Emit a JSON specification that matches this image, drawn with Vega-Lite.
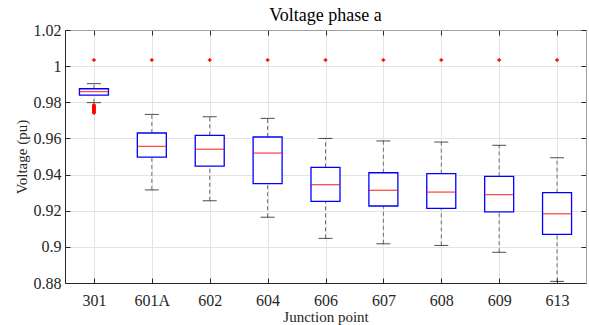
{
  "$schema": "https://vega.github.io/schema/vega-lite/v6.json",
  "width": 521,
  "height": 253,
  "autosize": {"type": "none"},
  "padding": {"left": 65, "top": 30, "right": 3, "bottom": 42},
  "background": "white",
  "title": {
    "text": "Voltage phase a",
    "font": "Liberation Serif",
    "fontSize": 18,
    "fontWeight": "normal",
    "color": "#000000",
    "offset": -3
  },
  "datasets": {
    "boxes": [
      {"point": "301", "lower": 0.9798, "q1": 0.9840, "median": 0.9859, "q3": 0.9875, "upper": 0.9903},
      {"point": "601A", "lower": 0.9315, "q1": 0.9497, "median": 0.9556, "q3": 0.9630, "upper": 0.9733},
      {"point": "602", "lower": 0.9255, "q1": 0.9447, "median": 0.9540, "q3": 0.9617, "upper": 0.9720},
      {"point": "604", "lower": 0.9164, "q1": 0.9350, "median": 0.9519, "q3": 0.9608, "upper": 0.9711},
      {"point": "606", "lower": 0.9047, "q1": 0.9252, "median": 0.9344, "q3": 0.9440, "upper": 0.9600},
      {"point": "607", "lower": 0.9017, "q1": 0.9226, "median": 0.9313, "q3": 0.9410, "upper": 0.9586},
      {"point": "608", "lower": 0.9008, "q1": 0.9213, "median": 0.9303, "q3": 0.9405, "upper": 0.9580},
      {"point": "609", "lower": 0.8970, "q1": 0.9194, "median": 0.9289, "q3": 0.9390, "upper": 0.9562},
      {"point": "613", "lower": 0.8809, "q1": 0.9069, "median": 0.9183, "q3": 0.9300, "upper": 0.9493}
    ],
    "outliers": [
      {"point": "301", "voltage": 1.0034},
      {"point": "601A", "voltage": 1.0034},
      {"point": "602", "voltage": 1.0034},
      {"point": "604", "voltage": 1.0034},
      {"point": "606", "voltage": 1.0034},
      {"point": "607", "voltage": 1.0034},
      {"point": "608", "voltage": 1.0034},
      {"point": "609", "voltage": 1.0034},
      {"point": "613", "voltage": 1.0034},
      {"point": "301", "voltage": 0.9785},
      {"point": "301", "voltage": 0.9780},
      {"point": "301", "voltage": 0.9775},
      {"point": "301", "voltage": 0.9770},
      {"point": "301", "voltage": 0.9765},
      {"point": "301", "voltage": 0.9760},
      {"point": "301", "voltage": 0.9755},
      {"point": "301", "voltage": 0.9750},
      {"point": "301", "voltage": 0.9745},
      {"point": "301", "voltage": 0.9741}
    ]
  },
  "resolve": {"axis": {"x": "independent", "y": "independent"}},
  "layer": [
    {
      "data": {"name": "boxes"},
      "mark": {"type": "rule", "strokeDash": [4, 3], "color": "#6e6e6e", "strokeWidth": 1},
      "encoding": {
        "x": {
          "field": "point", "type": "nominal", "sort": null,
          "scale": {"type": "point", "padding": 0.5},
          "title": "Junction point",
          "axis": {"orient": "bottom", "grid": true, "labelAngle": 0, "titlePadding": 1, "labelPadding": 14}
        },
        "y": {
          "field": "lower", "type": "quantitative",
          "scale": {"domain": [0.88, 1.02], "nice": false, "zero": false},
          "title": "Voltage (pu)",
          "axis": {"orient": "left", "grid": true, "values": [0.88, 0.9, 0.92, 0.94, 0.96, 0.98, 1, 1.02], "format": "~g", "titlePadding": 4, "labelPadding": 9}
        },
        "y2": {"field": "q1"}
      }
    },
    {
      "data": {"name": "boxes"},
      "mark": {"type": "rule", "strokeDash": [4, 3], "color": "#6e6e6e", "strokeWidth": 1},
      "encoding": {
        "x": {"field": "point", "type": "nominal", "sort": null, "axis": null},
        "y": {"field": "q3", "type": "quantitative", "axis": null},
        "y2": {"field": "upper"}
      }
    },
    {
      "data": {"name": "boxes"},
      "mark": {"type": "tick", "color": "#000000", "size": 14, "thickness": 1},
      "encoding": {
        "x": {"field": "point", "type": "nominal", "sort": null, "axis": null},
        "y": {"field": "upper", "type": "quantitative", "axis": null}
      }
    },
    {
      "data": {"name": "boxes"},
      "mark": {"type": "tick", "color": "#000000", "size": 14, "thickness": 1},
      "encoding": {
        "x": {"field": "point", "type": "nominal", "sort": null, "axis": null},
        "y": {"field": "lower", "type": "quantitative", "axis": null}
      }
    },
    {
      "data": {"name": "boxes"},
      "mark": {"type": "bar", "width": 29, "fill": "white", "stroke": "#0000ff", "strokeWidth": 1.3},
      "encoding": {
        "x": {"field": "point", "type": "nominal", "sort": null, "axis": null},
        "y": {"field": "q1", "type": "quantitative", "axis": null},
        "y2": {"field": "q3"}
      }
    },
    {
      "data": {"name": "boxes"},
      "mark": {"type": "tick", "color": "#ff0000", "size": 29, "thickness": 1.3},
      "encoding": {
        "x": {"field": "point", "type": "nominal", "sort": null, "axis": null},
        "y": {"field": "median", "type": "quantitative", "axis": null}
      }
    },
    {
      "data": {"name": "outliers"},
      "mark": {"type": "point", "shape": "cross", "filled": true, "color": "#ff0000", "size": 14, "opacity": 1},
      "encoding": {
        "x": {
          "field": "point", "type": "nominal", "sort": null,
          "axis": {"orient": "top", "labels": false, "title": null, "grid": false, "domainColor": "#a0a0a0", "tickColor": "#262626"}
        },
        "y": {
          "field": "voltage", "type": "quantitative",
          "axis": {"orient": "right", "labels": false, "title": null, "grid": false, "values": [0.88, 0.9, 0.92, 0.94, 0.96, 0.98, 1, 1.02], "domainColor": "#a0a0a0", "tickColor": "#262626"}
        }
      }
    }
  ],
  "config": {
    "view": {"stroke": null},
    "axis": {
      "labelFont": "Liberation Serif",
      "labelFontSize": 16,
      "labelColor": "#262626",
      "titleFont": "Liberation Serif",
      "titleFontSize": 15,
      "titleFontWeight": "normal",
      "titleColor": "#262626",
      "domainColor": "#262626",
      "domainWidth": 1,
      "tickColor": "#262626",
      "tickSize": -5,
      "tickWidth": 1,
      "gridColor": "#e3e3e3",
      "gridWidth": 1,
      "gridOpacity": 1
    }
  }
}
